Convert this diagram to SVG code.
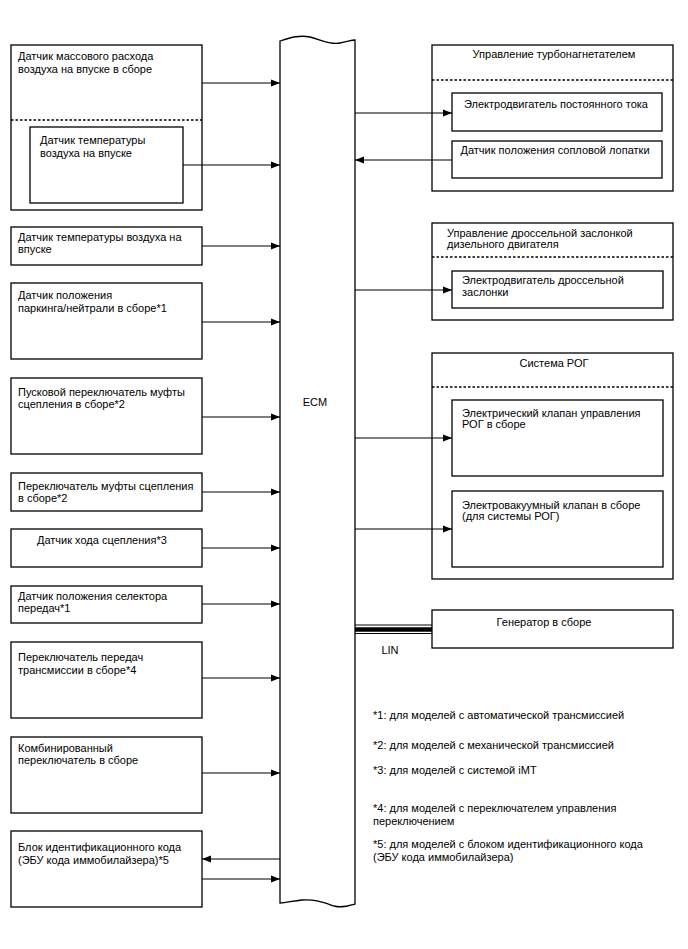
<svg xmlns="http://www.w3.org/2000/svg" width="688" height="949" viewBox="0 0 688 949">
<defs>
<marker id="ah" markerWidth="10" markerHeight="8" refX="9" refY="4" orient="auto" markerUnits="userSpaceOnUse">
<path d="M0,0.5 L9,4 L0,7.5 Z" fill="#000"/>
</marker>
<style>
.b{fill:#fff;stroke:#000;stroke-width:1.3}
.d{stroke:#000;stroke-width:1.3;stroke-dasharray:2.5,2;fill:none}
.c{stroke:#000;stroke-width:1.2;fill:none;marker-end:url(#ah)}
text{font-family:"Liberation Sans",Arial,sans-serif;font-size:11px;fill:#000}
</style>
</defs>
<rect width="688" height="949" fill="#fff"/>

<g id="ecm">
<path class="b" d="M280,41 C292,37 300,35 310,37 C322,40 330,45 340,43 C347,42 351,40 355,40 L355,904 C348,906 342,908 334,906 C322,902 314,899 302,900 C292,901 286,903 280,903 Z"/>
<text x="315" y="406" text-anchor="middle">ECM</text>
</g>

<g id="maf">
<rect class="b" x="11" y="45" width="191" height="165"/>
<text x="18" y="60">Датчик массового расхода</text>
<text x="18" y="73">воздуха на впуске в сборе</text>
<line class="d" x1="11" y1="120" x2="202" y2="120"/>
</g>
<g id="iat-inner">
<rect class="b" x="30" y="127" width="153" height="76"/>
<text x="40" y="144">Датчик температуры</text>
<text x="40" y="157">воздуха на впуске</text>
</g>
<g id="iat">
<rect class="b" x="11" y="227" width="191" height="38"/>
<text x="18" y="241">Датчик температуры воздуха на</text>
<text x="18" y="253">впуске</text>
</g>
<g id="pn">
<rect class="b" x="11" y="283" width="191" height="76"/>
<text x="18" y="299">Датчик положения</text>
<text x="18" y="312">паркинга/нейтрали в сборе*1</text>
</g>
<g id="cs-start">
<rect class="b" x="11" y="378" width="191" height="76"/>
<text x="18" y="396">Пусковой переключатель муфты</text>
<text x="18" y="408">сцепления в сборе*2</text>
</g>
<g id="cs">
<rect class="b" x="11" y="473" width="191" height="38"/>
<text x="18" y="490">Переключатель муфты сцепления</text>
<text x="18" y="502">в сборе*2</text>
</g>
<g id="cstroke">
<rect class="b" x="11" y="529" width="191" height="38"/>
<text x="37" y="544">Датчик хода сцепления*3</text>
</g>
<g id="sel">
<rect class="b" x="11" y="586" width="191" height="37"/>
<text x="18" y="600">Датчик положения селектора</text>
<text x="18" y="612">передач*1</text>
</g>
<g id="shift">
<rect class="b" x="11" y="642" width="191" height="76"/>
<text x="18" y="661">Переключатель передач</text>
<text x="18" y="674">трансмиссии в сборе*4</text>
</g>
<g id="comb">
<rect class="b" x="11" y="737" width="191" height="76"/>
<text x="18" y="752">Комбинированный</text>
<text x="18" y="764">переключатель в сборе</text>
</g>
<g id="idcode">
<rect class="b" x="11" y="831" width="191" height="76"/>
<text x="18" y="851">Блок идентификационного кода</text>
<text x="18" y="864">(ЭБУ кода иммобилайзера)*5</text>
</g>

<g id="turbo">
<rect class="b" x="432" y="45" width="241" height="146"/>
<text x="554" y="58" text-anchor="middle">Управление турбонагнетателем</text>
<line class="d" x1="432" y1="80" x2="673" y2="80"/>
</g>
<g id="dcmotor">
<rect class="b" x="452" y="93" width="210" height="38"/>
<text x="556" y="108" text-anchor="middle">Электродвигатель постоянного тока</text>
</g>
<g id="nozzle">
<rect class="b" x="452" y="141" width="210" height="37"/>
<text x="555" y="154" text-anchor="middle">Датчик положения сопловой лопатки</text>
</g>

<g id="throttle">
<rect class="b" x="432" y="223" width="241" height="97"/>
<text x="447" y="237">Управление дроссельной заслонкой</text>
<text x="447" y="248">дизельного двигателя</text>
<line class="d" x1="432" y1="257" x2="673" y2="257"/>
</g>
<g id="thmotor">
<rect class="b" x="452" y="271" width="211" height="37"/>
<text x="462" y="284">Электродвигатель дроссельной</text>
<text x="462" y="296">заслонки</text>
</g>

<g id="egr">
<rect class="b" x="432" y="353" width="241" height="226"/>
<text x="554" y="367" text-anchor="middle">Система РОГ</text>
<line class="d" x1="432" y1="387" x2="673" y2="387"/>
</g>
<g id="egrvalve">
<rect class="b" x="452" y="400" width="211" height="76"/>
<text x="462" y="417">Электрический клапан управления</text>
<text x="462" y="428">РОГ в сборе</text>
</g>
<g id="vsv">
<rect class="b" x="452" y="491" width="211" height="76"/>
<text x="462" y="509">Электровакуумный клапан в сборе</text>
<text x="462" y="520">(для системы РОГ)</text>
</g>

<g id="gen">
<rect class="b" x="432" y="610" width="241" height="38"/>
<text x="544" y="626" text-anchor="middle">Генератор в сборе</text>
</g>

<g id="connectors">
<line class="c" x1="202" y1="83" x2="280" y2="83"/>
<line class="c" x1="183" y1="165" x2="280" y2="165"/>
<line class="c" x1="202" y1="246" x2="280" y2="246"/>
<line class="c" x1="202" y1="322" x2="280" y2="322"/>
<line class="c" x1="202" y1="417" x2="280" y2="417"/>
<line class="c" x1="202" y1="492" x2="280" y2="492"/>
<line class="c" x1="202" y1="548" x2="280" y2="548"/>
<line class="c" x1="202" y1="604" x2="280" y2="604"/>
<line class="c" x1="202" y1="678" x2="280" y2="678"/>
<line class="c" x1="202" y1="773" x2="280" y2="773"/>
<line class="c" x1="280" y1="859" x2="202" y2="859"/>
<line class="c" x1="202" y1="879" x2="280" y2="879"/>
<line class="c" x1="355" y1="113" x2="452" y2="113"/>
<line class="c" x1="452" y1="160" x2="355" y2="160"/>
<line class="c" x1="355" y1="290" x2="452" y2="290"/>
<line class="c" x1="355" y1="438" x2="452" y2="438"/>
<line class="c" x1="355" y1="529" x2="452" y2="529"/>
<line x1="355" y1="625" x2="432" y2="625" stroke="#000" stroke-width="1"/>
<line x1="355" y1="629.5" x2="432" y2="629.5" stroke="#000" stroke-width="4.5"/>
<line x1="355" y1="633.5" x2="432" y2="633.5" stroke="#000" stroke-width="1"/>
<text x="390" y="654" text-anchor="middle">LIN</text>
</g>

<g id="notes">
<text x="373" y="719">*1: для моделей с автоматической трансмиссией</text>
<text x="373" y="749">*2: для моделей с механической трансмиссией</text>
<text x="373" y="774">*3: для моделей с системой iMT</text>
<text x="373" y="812">*4: для моделей с переключателем управления</text>
<text x="373" y="825">переключением</text>
<text x="373" y="848">*5: для моделей с блоком идентификационного кода</text>
<text x="373" y="861">(ЭБУ кода иммобилайзера)</text>
</g>
</svg>
